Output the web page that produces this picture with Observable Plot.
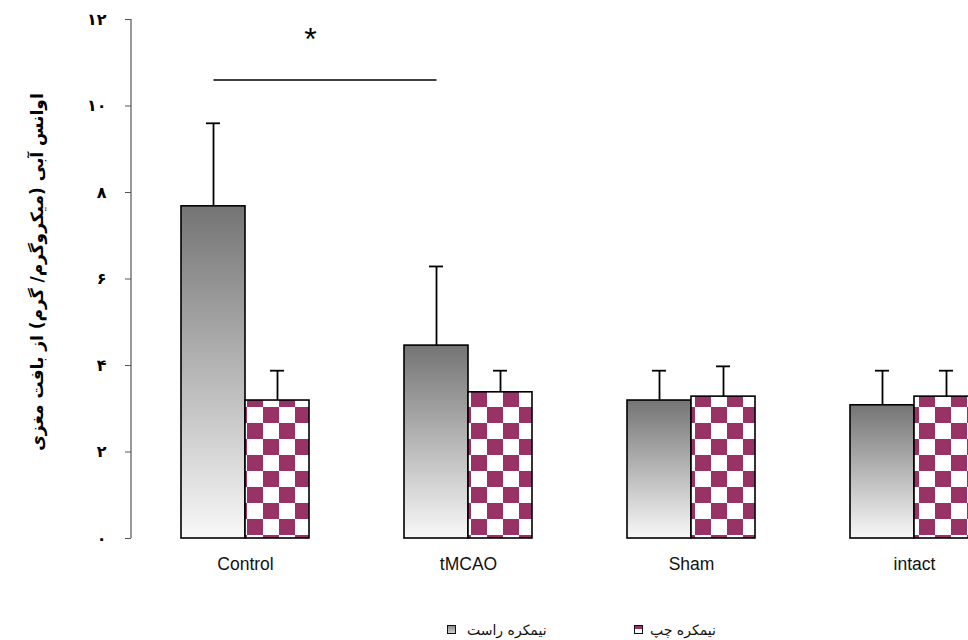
<!DOCTYPE html>
<html>
<head>
<meta charset="utf-8">
<script src="https://cdn.jsdelivr.net/npm/d3@7"></script>
<script src="https://cdn.jsdelivr.net/npm/@observablehq/plot@0.6"></script>
<style>
  html, body { margin: 0; padding: 0; background: white; overflow: hidden; width: 968px; height: 640px; }
  #chart { position: absolute; left: 0; top: 0; }
  .leg { position: absolute; font-family: "DejaVu Sans", sans-serif; font-size: 14px; color: #111; white-space: nowrap; direction: rtl; line-height: 16px; }
  .box { position: absolute; width: 7px; height: 7px; border: 1px solid #111; }
</style>
</head>
<body>
<div id="chart"></div>
<div class="box" style="left:447px; top:625px; background: linear-gradient(#8a8a8a, #d0d0d0);"></div>
<div class="leg" style="left:467px; top:622px;">نیمکره راست</div>
<div class="box" style="left:634px; top:625px; background: linear-gradient(#993366 0 50%, #ffffff 50% 100%);"></div>
<div class="leg" style="left:650px; top:622px;">نیمکره چپ</div>
<script>
const groups = ["Control", "tMCAO", "Sham", "intact"];
const rightValues = [7.68, 4.46, 3.19, 3.08];
const rightSem = [1.92, 1.83, 0.69, 0.80];
const leftValues = [3.19, 3.38, 3.28, 3.28];
const leftSem = [0.69, 0.50, 0.70, 0.60];
const yTicks = [0, 2, 4, 6, 8, 10, 12];
const yTickLabels = ["۰", "۲", "۴", "۶", "۸", "۱۰", "۱۲"];
const yTitle = "اوانس آبی (میکروگرم/ گرم) از بافت مغزی";
const sigPair = ["Control", "tMCAO"];
const sigLevel = 10.6;
const starLevel = 11.6;

const right = groups.map((g, i) => ({group: g, value: rightValues[i], sem: rightSem[i]}));
const left = groups.map((g, i) => ({group: g, value: leftValues[i], sem: leftSem[i]}));

const defs = () => {
  const d = d3.create("svg:defs");
  const lg = d.append("linearGradient").attr("id", "grayGrad").attr("x1", 0).attr("y1", 0).attr("x2", 0).attr("y2", 1);
  lg.append("stop").attr("offset", "0%").attr("stop-color", "#747474");
  lg.append("stop").attr("offset", "100%").attr("stop-color", "#f8f8f8");
  const p = d.append("pattern").attr("id", "checker").attr("patternUnits", "userSpaceOnUse")
    .attr("x", 23).attr("y", 7).attr("width", 32).attr("height", 32);
  p.append("rect").attr("width", 32).attr("height", 32).attr("fill", "white");
  p.append("rect").attr("x", 0).attr("y", 0).attr("width", 16).attr("height", 16).attr("fill", "#993366");
  p.append("rect").attr("x", 16).attr("y", 16).attr("width", 16).attr("height", 16).attr("fill", "#993366");
  return d.node();
};

const axisLine = (index, scales, values, dimensions) => {
  const x = dimensions.marginLeft - 2;
  const g = d3.create("svg:line")
    .attr("x1", x).attr("x2", x)
    .attr("y1", scales.y(12)).attr("y2", scales.y(0))
    .attr("stroke", "#555").attr("stroke-width", 1.2);
  return g.node();
};

const chart = Plot.plot({
  width: 1026,
  height: 600,
  marginLeft: 133,
  marginRight: 0,
  marginTop: 19,
  marginBottom: 62,
  style: {background: "white", maxWidth: "none", overflow: "hidden", fontFamily: "Liberation Sans, Arial, sans-serif"},
  x: {domain: groups, paddingInner: 0.4267, paddingOuter: 0.2133, label: null},
  y: {domain: [0, 12], label: null},
  marks: [
    defs,
    Plot.barY(right, {x: "group", y: "value", fill: "url(#grayGrad)", stroke: "black", strokeWidth: 1.6, insetRight: 64}),
    Plot.barY(left, {x: "group", y: "value", fill: "url(#checker)", stroke: "black", strokeWidth: 1.6, insetLeft: 64}),
    Plot.ruleX(right, {x: "group", y1: "value", y2: d => d.value + d.sem, dx: -32, stroke: "black", strokeWidth: 1.8}),
    Plot.ruleX(left, {x: "group", y1: "value", y2: d => d.value + d.sem, dx: 32, stroke: "black", strokeWidth: 1.8}),
    Plot.tickY(right, {x: "group", y: d => d.value + d.sem, insetLeft: 25, insetRight: 89, stroke: "black", strokeWidth: 1.8}),
    Plot.tickY(left, {x: "group", y: d => d.value + d.sem, insetLeft: 89, insetRight: 25, stroke: "black", strokeWidth: 1.8}),
    Plot.link([sigPair], {x1: d => d[0], x2: d => d[1], y1: () => sigLevel, y2: () => sigLevel, dx: -32, stroke: "black", strokeWidth: 1.5}),
    Plot.text([sigPair], {x: d => d[0], y: () => starLevel, text: () => "*", dx: 65, dy: 3, fontSize: 32, fontFamily: "Liberation Sans, Arial, sans-serif", fill: "black"}),
    Plot.axisY({ticks: yTicks, tickFormat: (d, i) => yTickLabels[yTicks.indexOf(d)], tickSize: 6, tickPadding: 19, fontSize: 16, fontWeight: "bold", fontFamily: "DejaVu Sans, sans-serif", stroke: "#555", dx: -2, label: null}),
    Plot.axisX({tickSize: 0, tickPadding: 19, fontSize: 17.5, fontFamily: "Liberation Sans, Arial, sans-serif", label: null, fill: "#111"}),
    axisLine,
    Plot.text([yTitle], {frameAnchor: "left", textAnchor: "middle", text: d => d, rotate: -90, dx: -96, dy: -7, fontSize: 17, fontWeight: "bold", fontFamily: "DejaVu Sans, sans-serif", fill: "black"})
  ]
});
document.getElementById("chart").appendChild(chart);
</script>
</body>
</html>
